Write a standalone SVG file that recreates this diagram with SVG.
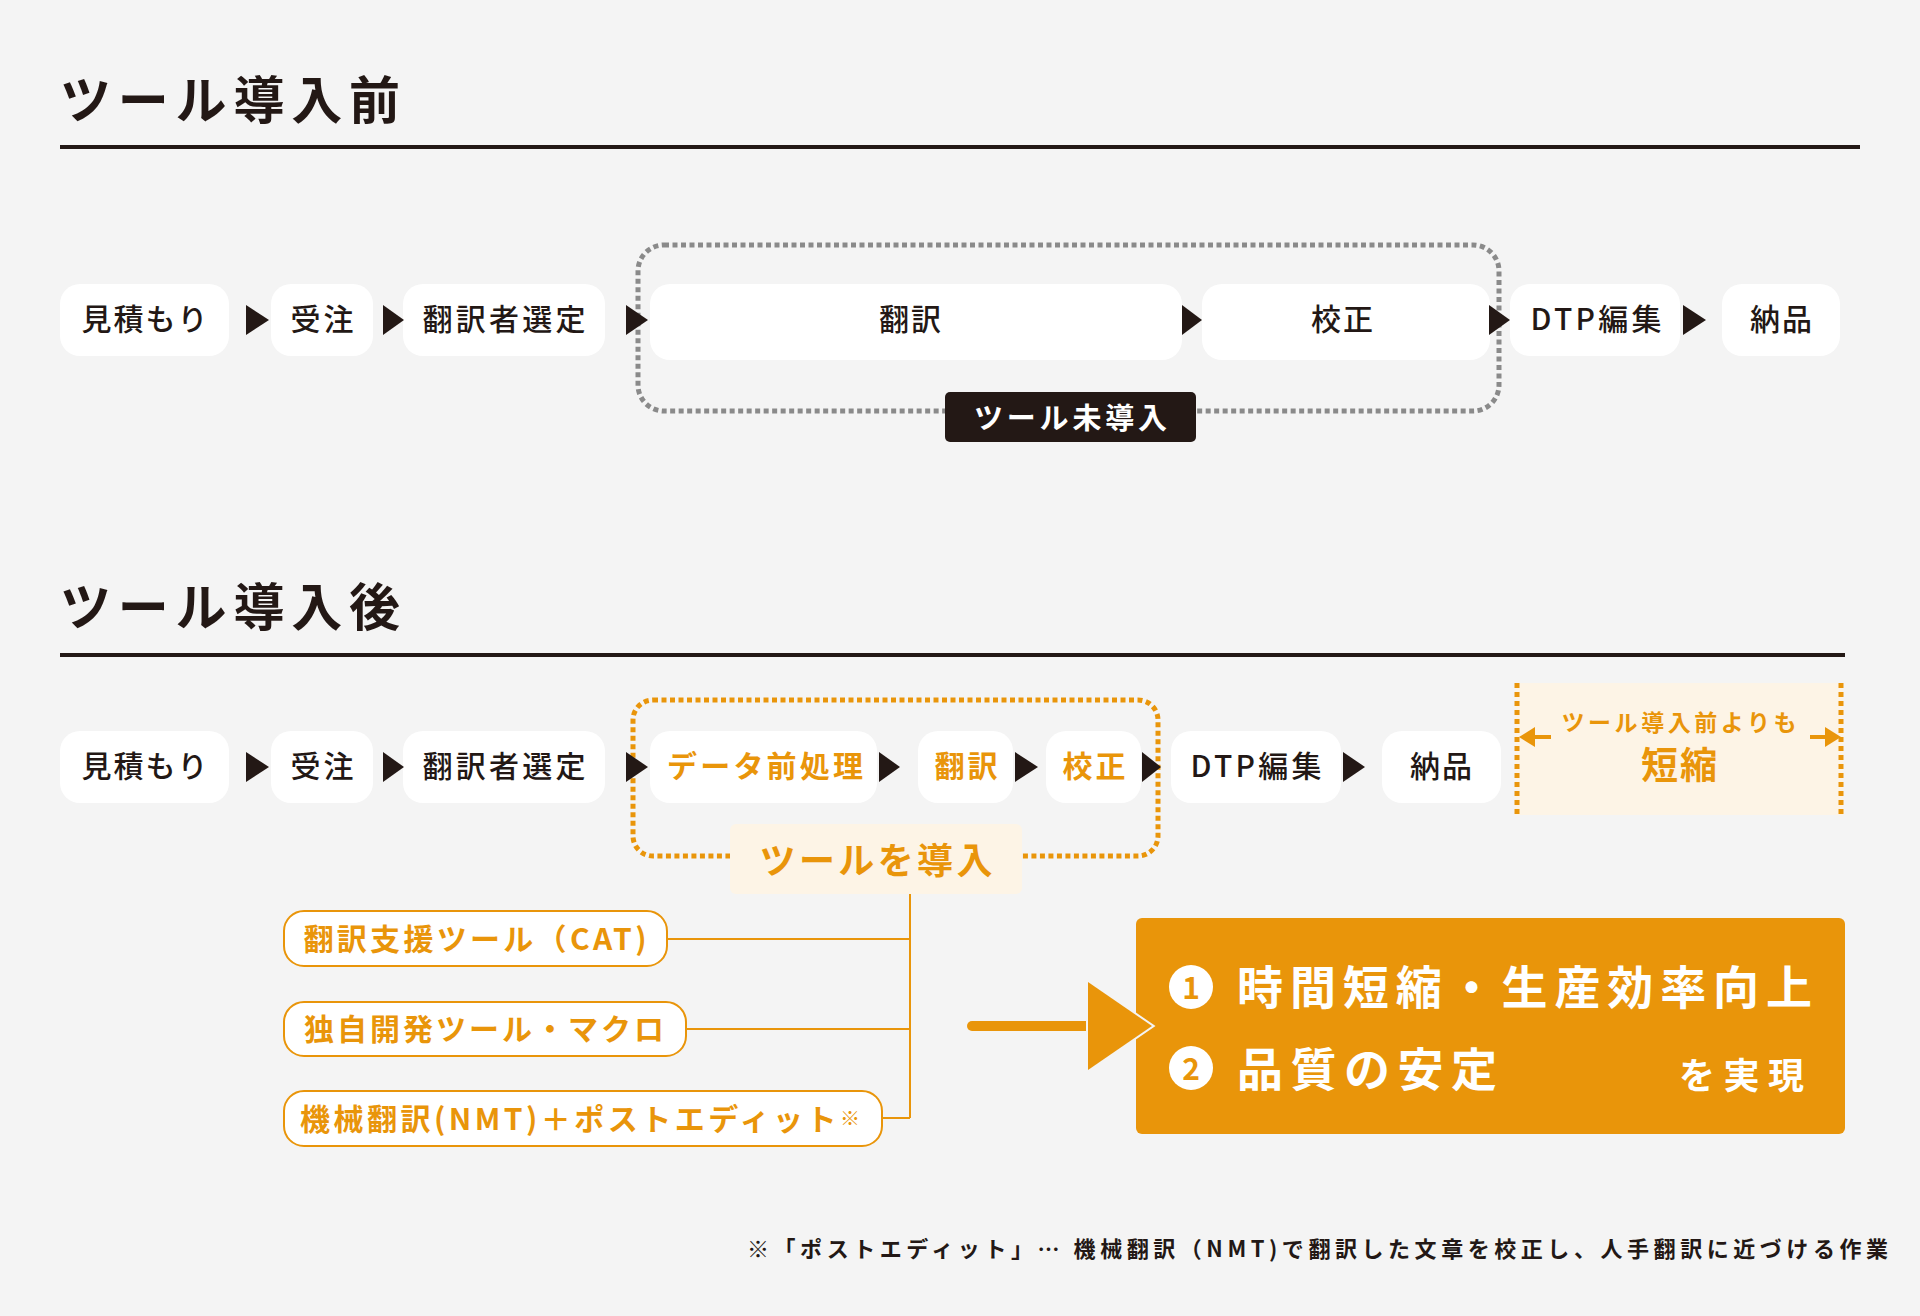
<svg xmlns="http://www.w3.org/2000/svg" width="1920" height="1316" viewBox="0 0 1920 1316">
<defs>
<style>
.bg{fill:#f4f4f4}
.box{fill:#ffffff}
.t{font-family:"Noto Sans CJK JP","Noto Sans",sans-serif;font-size:30px;font-weight:500;fill:#231815;text-anchor:middle;dominant-baseline:central}
.to{font-family:"Noto Sans CJK JP","Noto Sans",sans-serif;font-size:30px;font-weight:700;fill:#E9950A;text-anchor:middle;dominant-baseline:central}
.title{font-family:"Noto Sans CJK JP","Noto Sans",sans-serif;font-size:51px;font-weight:700;fill:#231815}
.tri{fill:#231815}
.tool{fill:#ffffff;stroke:#E9950A;stroke-width:2}
.conn{stroke:#E9950A;stroke-width:2;fill:none}
.w{font-family:"Noto Sans CJK JP","Noto Sans",sans-serif;font-weight:700;fill:#ffffff}
</style>
</defs>
<rect class="bg" x="0" y="0" width="1920" height="1316"/>

<!-- Section 1 -->
<g id="title-before">
<text class="title" x="60" y="119" textLength="340" lengthAdjust="spacing">ツール導入前</text>
<rect x="60" y="145" width="1800" height="4" fill="#231815"/>
</g>

<g id="group-no-tool">
<rect x="638" y="245" width="861" height="166" rx="26" fill="none" stroke="#8a8a8a" stroke-width="5" stroke-dasharray="5 3.5"/>
</g>

<g id="n1-mitsumori"><rect class="box" x="60" y="284" width="169" height="72" rx="20"/><text class="t" x="144.5" y="317" textLength="126" lengthAdjust="spacing">見積もり</text></g>
<g id="n1-juchu"><rect class="box" x="271" y="284" width="102" height="72" rx="20"/><text class="t" x="322" y="317" textLength="63" lengthAdjust="spacing">受注</text></g>
<g id="n1-sentei"><rect class="box" x="403" y="284" width="202" height="72" rx="20"/><text class="t" x="504" y="317" textLength="163" lengthAdjust="spacing">翻訳者選定</text></g>
<g id="n1-honyaku"><rect class="box" x="650" y="284" width="532" height="76" rx="20"/><text class="t" x="910" y="317" textLength="62" lengthAdjust="spacing">翻訳</text></g>
<g id="n1-kousei"><rect class="box" x="1202" y="284" width="288" height="76" rx="20"/><text class="t" x="1342" y="317" textLength="62" lengthAdjust="spacing">校正</text></g>
<g id="n1-dtp"><rect class="box" x="1510" y="284" width="170" height="72" rx="20"/><text class="t" x="1596" y="317" textLength="131" lengthAdjust="spacing">DTP編集</text></g>
<g id="n1-nouhin"><rect class="box" x="1722" y="284" width="118" height="72" rx="20"/><text class="t" x="1781" y="317" textLength="62" lengthAdjust="spacing">納品</text></g>

<g id="label-no-tool">
<rect x="945" y="392" width="251" height="50" rx="5" fill="#231815"/>
<text class="w" x="1070.5" y="416" style="font-size:29px" text-anchor="middle" dominant-baseline="central" textLength="193" lengthAdjust="spacing">ツール未導入</text>
</g>

<!-- Section 2 -->
<g id="title-after">
<text class="title" x="60" y="626" textLength="340" lengthAdjust="spacing">ツール導入後</text>
<rect x="60" y="653" width="1785" height="4" fill="#231815"/>
</g>

<g id="group-tool">
<rect x="633" y="700" width="525" height="156" rx="20" fill="none" stroke="#E9950A" stroke-width="5" stroke-dasharray="5 3.5"/>
</g>

<g id="n2-mitsumori"><rect class="box" x="60" y="731" width="169" height="72" rx="20"/><text class="t" x="144.5" y="764" textLength="126" lengthAdjust="spacing">見積もり</text></g>
<g id="n2-juchu"><rect class="box" x="271" y="731" width="102" height="72" rx="20"/><text class="t" x="322" y="764" textLength="63" lengthAdjust="spacing">受注</text></g>
<g id="n2-sentei"><rect class="box" x="403" y="731" width="202" height="72" rx="20"/><text class="t" x="504" y="764" textLength="163" lengthAdjust="spacing">翻訳者選定</text></g>
<g id="n2-pre"><rect class="box" x="650" y="731" width="227" height="72" rx="20"/><text class="to" x="765" y="764" textLength="196" lengthAdjust="spacing">データ前処理</text></g>
<g id="n2-honyaku"><rect class="box" x="918" y="731" width="95" height="72" rx="20"/><text class="to" x="966" y="764" textLength="63" lengthAdjust="spacing">翻訳</text></g>
<g id="n2-kousei"><rect class="box" x="1046" y="731" width="95" height="72" rx="20"/><text class="to" x="1094" y="764" textLength="63" lengthAdjust="spacing">校正</text></g>
<g id="n2-dtp"><rect class="box" x="1171" y="731" width="170" height="72" rx="20"/><text class="t" x="1256" y="764" textLength="131" lengthAdjust="spacing">DTP編集</text></g>
<g id="n2-nouhin"><rect class="box" x="1382" y="731" width="119" height="72" rx="20"/><text class="t" x="1441" y="764" textLength="62" lengthAdjust="spacing">納品</text></g>

<g id="label-tool">
<rect x="730" y="824" width="292" height="70" rx="6" fill="#FDF4E6"/>
<text class="to" x="876" y="858" style="font-size:36px" textLength="233" lengthAdjust="spacing">ツールを導入</text>
</g>

<g id="shortened">
<rect x="1515" y="683" width="328" height="132" fill="#FDF4E6"/>
<line x1="1517" y1="683" x2="1517" y2="815" stroke="#E9950A" stroke-width="5" stroke-dasharray="5 4"/>
<line x1="1841" y1="683" x2="1841" y2="815" stroke="#E9950A" stroke-width="5" stroke-dasharray="5 4"/>
<line x1="1528" y1="737" x2="1551" y2="737" stroke="#E9950A" stroke-width="4"/>
<polygon points="1519,737 1535,727 1535,747" fill="#E9950A"/>
<line x1="1810" y1="737" x2="1833" y2="737" stroke="#E9950A" stroke-width="4"/>
<polygon points="1841,737 1825,727 1825,747" fill="#E9950A"/>
<text class="to" x="1679" y="721" style="font-size:23px" textLength="235" lengthAdjust="spacing">ツール導入前よりも</text>
<text class="to" x="1679" y="763" style="font-size:37px" textLength="76" lengthAdjust="spacing">短縮</text>
</g>

<g id="tool-cat"><rect class="tool" x="284" y="911" width="383" height="55" rx="20"/><text class="to" x="475" y="937" textLength="343" lengthAdjust="spacing">翻訳支援ツール（CAT)</text></g>
<g id="tool-macro"><rect class="tool" x="284" y="1002" width="402" height="54" rx="20"/><text class="to" x="484" y="1027" textLength="360" lengthAdjust="spacing">独自開発ツール・マクロ</text></g>
<g id="tool-nmt"><rect class="tool" x="284" y="1091" width="598" height="55" rx="20"/><text class="to" x="580" y="1117" textLength="560" lengthAdjust="spacing">機械翻訳(NMT)＋ポストエディット<tspan style="font-size:20px;font-weight:400">※</tspan></text></g>

<g id="result">
<rect x="1136" y="918" width="709" height="216" rx="6" fill="#E9950A"/>
<circle cx="1191" cy="987" r="22" fill="#ffffff"/>
<text class="to" x="1191" y="986" style="font-size:30px">1</text>
<circle cx="1191" cy="1068" r="22" fill="#ffffff"/>
<text class="to" x="1191" y="1067" style="font-size:30px">2</text>
<text class="w" x="1237" y="984" style="font-size:46px" dominant-baseline="central" textLength="575" lengthAdjust="spacing">時間短縮・生産効率向上</text>
<text class="w" x="1237" y="1066" style="font-size:46px" dominant-baseline="central" textLength="260" lengthAdjust="spacing">品質の安定</text>
<text class="w" x="1679" y="1073" style="font-size:36px" dominant-baseline="central" textLength="125" lengthAdjust="spacing">を実現</text>
</g>

<g id="connectors">
<polygon class="tri" points="246,305 269,320 246,335"/>
<polygon class="tri" points="383,305 404,320 383,335"/>
<polygon class="tri" points="626,305 648,320 626,335"/>
<polygon class="tri" points="1182,305 1202,320 1182,335"/>
<polygon class="tri" points="1489,305 1510,320 1489,335"/>
<polygon class="tri" points="1683,305 1706,320 1683,335"/>

<polygon class="tri" points="246,752 269,767 246,782"/>
<polygon class="tri" points="383,752 404,767 383,782"/>
<polygon class="tri" points="626,752 648,767 626,782"/>
<polygon class="tri" points="879,752 900,767 879,782"/>
<polygon class="tri" points="1015,752 1038,767 1015,782"/>
<polygon class="tri" points="1142,752 1161,767 1142,782"/>
<polygon class="tri" points="1343,752 1365,767 1343,782"/>

<path class="conn" d="M910,894 V1118 M667,939 H910 M686,1029 H910 M882,1118 H910"/>

<line x1="972" y1="1026" x2="1092" y2="1026" stroke="#E9950A" stroke-width="10" stroke-linecap="round"/>
<polygon points="1088,982 1152,1026 1088,1070" fill="#E9950A" stroke="#f4f4f4" stroke-width="4" stroke-linejoin="miter"/>
<polygon points="1088,982 1152,1026 1088,1070" fill="#E9950A"/>
</g>

<g id="footnote">
<text x="747" y="1247" font-family="Noto Sans CJK JP, Noto Sans, sans-serif" font-size="22" font-weight="700" fill="#231815" dominant-baseline="central" textLength="1141" lengthAdjust="spacing">※「ポストエディット」… 機械翻訳（NMT)で翻訳した文章を校正し、人手翻訳に近づける作業</text>
</g>
</svg>
